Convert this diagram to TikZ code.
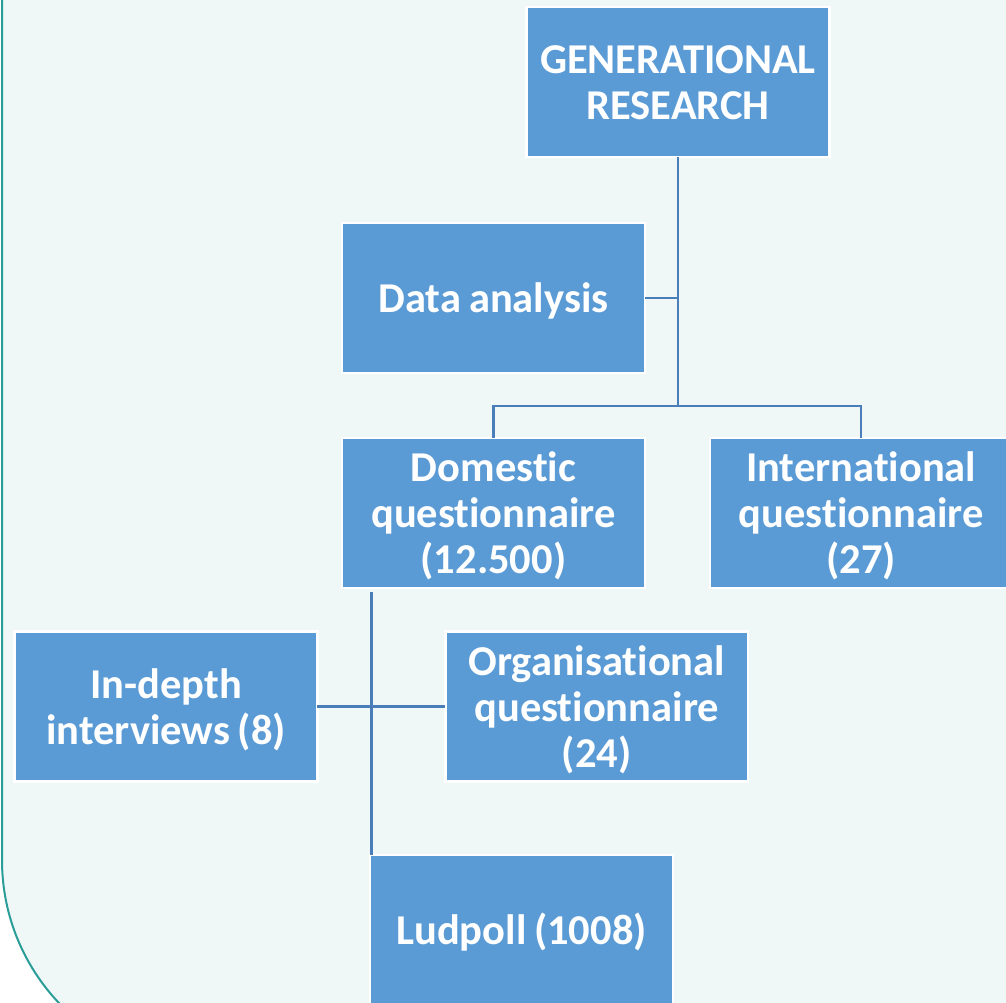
\documentclass[tikz,border=0pt]{standalone}
\usepackage{fontspec}
\setmainfont[Ligatures=NoCommon]{Carlito}
\usetikzlibrary{positioning,calc}

\definecolor{panelfill}{HTML}{EFF8F7}
\definecolor{panelline}{HTML}{2A9D98}
\definecolor{boxfill}{HTML}{5B9BD5}
\definecolor{linkline}{HTML}{4A7EBB}

\newcommand\boxstrut{\rule[-7pt]{0pt}{43pt}}
\newcommand\tightspace{\spaceskip=7pt plus 2pt minus 1pt\relax}

\begin{document}
\begin{tikzpicture}[x=1pt,y=-1pt,
        node distance=65pt,
        box/.style={rectangle,fill=boxfill,draw=white,line width=2.4pt,outer sep=0pt,
            minimum width=302pt,minimum height=150pt,text width=296pt,align=center,
            text=white,font=\bfseries\fontsize{42.5}{46}\selectfont,
            execute at begin node=\tightspace\boxstrut,
            execute at end node=\boxstrut},
        link/.style={draw=linkline,line width=2.6pt}]

        \useasboundingbox (0,0) rectangle (1006,1002);
        \clip (0,0) rectangle (1006,1002);
        \fill[white] (0,0) rectangle (1006,1002);
        % panel behind the chart
        \filldraw[fill=panelfill,draw=panelline,line width=2pt]
            (2,-30) [rounded corners=208pt] -- (2,1068) [sharp corners] -- (1040,1068) -- (1040,-30) -- cycle;

        \node[box] (gen) at (678,82) {GENERATIONAL\\RESEARCH};
        \node[box] (data) [below=66pt of gen, xshift=-184.5pt] {Data analysis};
        \node[box] (dom) [below=of data] {Domestic\\questionnaire\\(12.500)};
        \node[box] (intl) [right=of dom] {International\\questionnaire\\(27)};
        \node[box] (indepth) at (166,706.5) {In-depth\\interviews (8)};
        \node[box] (org) [right=128pt of indepth] {Organisational\\questionnaire\\(24)};
        \node[box] (lud) at (521.5,930) {Ludpoll (1008)};

        \coordinate (fork) at ($(gen.south)+(0,249)$);
        \coordinate (trunk) at ($(dom.south west)+(29.5,4)$);

        \draw[link] (gen.south) -- (fork);
        \draw[link] (data.east) -- (data.east -| gen.south);
        \draw[link] (dom.north) |- (fork) -| (intl.north);
        \draw[link] (trunk) -- (trunk |- lud.north);
        \draw[link] (indepth.east) -- (org.west);
\end{tikzpicture}
\end{document}
